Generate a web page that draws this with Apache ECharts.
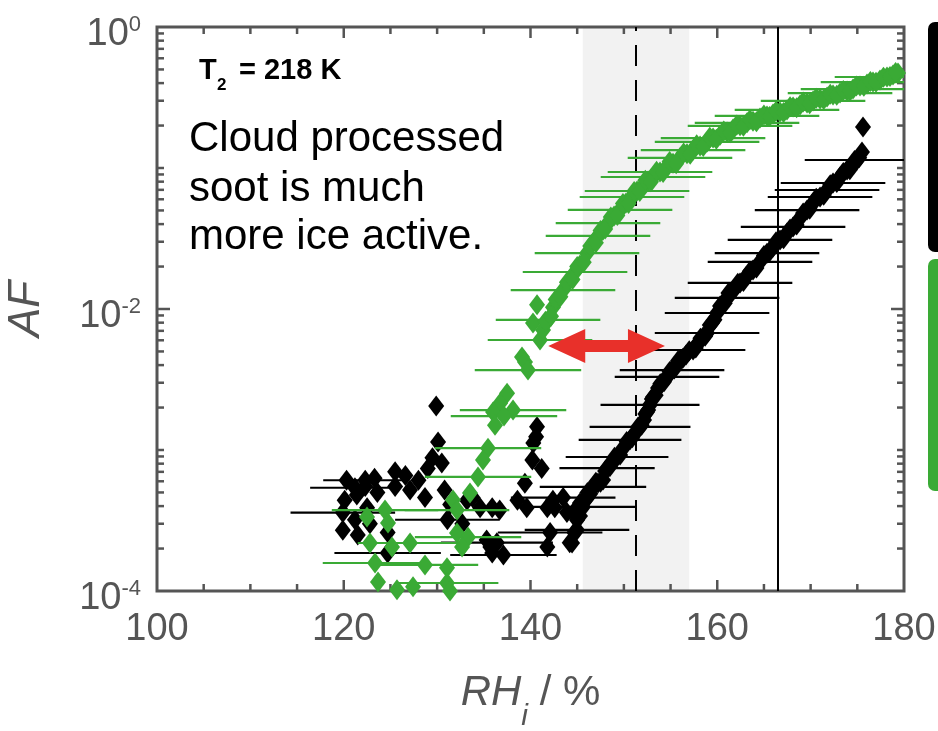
<!DOCTYPE html>
<html>
<head>
<meta charset="utf-8">
<script src="https://cdn.jsdelivr.net/npm/echarts@6/dist/echarts.min.js"></script>
<style>
  html, body { margin: 0; padding: 0; background: #fff; }
  #chart { width: 938px; height: 731px; }
</style>
</head>
<body>
<div id="chart"></div>
<script>
// ---- Data: activated fraction (AF) vs. ice relative humidity (RH_i, %) ----

// untreated soot: scattered low-AF points
const blackScatter = [
  [129.9, 2.05e-3], [130.1, 1.14e-3], [129.5, 8.8e-4], [130.5, 8.1e-4], [129.0, 7.4e-4],
  [120.3, 6.1e-4], [123.3, 6.3e-4], [125.5, 7.0e-4], [126.6, 6.6e-4], [128.0, 6.1e-4],
  [122.3, 5.5e-4], [120.1, 4.4e-4], [121.4, 4.8e-4], [123.6, 5.0e-4], [125.5, 5.5e-4],
  [127.1, 5.2e-4], [128.7, 4.6e-4], [130.8, 5.2e-4], [131.4, 4.1e-4], [133.2, 4.4e-4],
  [134.6, 3.9e-4], [135.9, 3.9e-4], [122.5, 3.9e-4], [121.2, 3.2e-4], [119.9, 2.7e-4],
  [121.5, 2.5e-4], [122.8, 3.0e-4], [124.7, 2.6e-4], [124.7, 1.86e-4], [131.1, 3.2e-4],
  [132.7, 3.0e-4], [135.3, 2.3e-4], [135.9, 1.86e-4], [140.7, 1.46e-3], [140.6, 1.24e-3],
  [140.3, 1.12e-3], [140.2, 8.5e-4], [141.2, 7.4e-4], [139.4, 5.8e-4], [138.6, 4.4e-4],
  [139.6, 3.9e-4], [136.7, 3.75e-4], [133.8, 4.6e-4], [141.8, 3.9e-4], [142.4, 4.4e-4],
  [143.5, 4.6e-4], [144.6, 3.6e-4], [145.3, 4.2e-4], [146.1, 5.0e-4], [142.1, 2.6e-4],
  [141.8, 2.05e-4], [144.2, 2.2e-4], [135.7, 2.05e-4], [137.1, 1.8e-4], [136.4, 2.2e-4],
  [143.9, 3.6e-4], [142.6, 3.9e-4], [122.3, 6.1e-4], [121.2, 5.4e-4], [119.9, 3.6e-4]
];

// untreated soot: main activation curve (centre of the dense band)
const blackCurve = [
  [144.45, 2.19e-4], [144.98, 2.71e-4], [144.98, 3.19e-4], [145.62, 3.95e-4], [146.16, 4.65e-4],
  [146.69, 5.47e-4], [147.23, 5.84e-4], [147.77, 6.12e-4], [148.20, 7.45e-4], [148.73, 8.22e-4],
  [149.27, 8.92e-4], [149.91, 1.03e-3], [150.66, 1.18e-3], [151.19, 1.32e-3], [151.73, 1.46e-3],
  [152.16, 1.63e-3], [152.48, 1.86e-3], [152.80, 2.09e-3], [153.12, 2.38e-3], [153.66, 2.75e-3],
  [154.09, 2.99e-3], [154.62, 3.30e-3], [155.16, 3.69e-3], [155.59, 4.01e-3], [156.01, 4.35e-3],
  [156.66, 4.72e-3], [157.41, 5.12e-3], [157.94, 5.74e-3], [158.48, 6.33e-3], [158.91, 6.76e-3],
  [159.44, 7.96e-3], [159.98, 9.37e-3], [160.52, 1.07e-2], [161.05, 1.20e-2], [161.37, 1.30e-2],
  [161.91, 1.41e-2], [162.44, 1.53e-2], [163.08, 1.69e-2], [163.83, 1.89e-2], [164.58, 2.16e-2],
  [165.33, 2.49e-2], [165.97, 2.75e-2], [166.72, 3.09e-2], [167.47, 3.46e-2], [168.12, 3.82e-2],
  [168.87, 4.42e-2], [169.62, 5.03e-2], [170.26, 5.65e-2], [171.01, 6.23e-2], [171.76, 6.98e-2],
  [172.40, 7.83e-2], [173.15, 8.63e-2], [173.90, 9.68e-2], [174.43, 0.105], [174.97, 0.114],
  [175.50, 0.130], [175.61, 0.195]
];

// untreated soot: further points along the edges of the dense band
const blackCurveSpread = [
  [144.7, 2.6e-4], [145.3, 3.4e-4], [145.9, 4.5e-4], [146.4, 4.9e-4], [147.0, 5.9e-4],
  [147.5, 5.9e-4], [148.0, 7.1e-4], [148.5, 7.6e-4], [149.0, 8.9e-4], [149.6, 9.2e-4],
  [150.3, 1.15e-3], [150.9, 1.22e-3], [151.5, 1.45e-3], [151.9, 1.50e-3], [152.3, 1.80e-3],
  [152.6, 1.92e-3], [153.0, 2.30e-3], [153.4, 2.45e-3], [153.9, 2.95e-3], [154.3, 3.05e-3],
  [154.9, 3.60e-3], [155.4, 3.75e-3], [155.8, 4.3e-3], [156.3, 4.45e-3], [157.0, 5.05e-3],
  [157.7, 5.30e-3], [158.2, 6.2e-3], [158.7, 6.4e-3], [159.2, 7.7e-3], [159.7, 8.4e-3],
  [160.3, 1.05e-2], [160.8, 1.10e-2], [161.2, 1.30e-2], [161.6, 1.32e-2], [162.2, 1.52e-2],
  [162.8, 1.57e-2], [163.5, 1.85e-2], [164.2, 1.95e-2], [165.0, 2.40e-2], [165.6, 2.55e-2],
  [166.3, 3.0e-2], [167.1, 3.15e-2], [167.8, 3.7e-2], [168.5, 3.95e-2], [169.2, 4.8e-2],
  [169.9, 5.1e-2], [170.6, 6.1e-2], [171.4, 6.4e-2], [172.1, 7.6e-2], [172.8, 7.9e-2],
  [173.5, 9.3e-2], [174.2, 9.7e-2], [174.7, 0.113], [175.2, 0.118]
];

// untreated soot: horizontal RH_i uncertainty [RH, AF, half-width]
const blackErrorBars = [
  [122.3, 6.1e-4, 4.5], [121.2, 5.4e-4, 4.8], [119.9, 3.6e-4, 5.6], [124.7, 1.86e-4, 5.7],
  [131.1, 3.2e-4, 5.6], [136.4, 2.2e-4, 6.0], [137.1, 1.8e-4, 5.7], [142.1, 2.6e-4, 5.6],
  [143.5, 4.6e-4, 5.6], [144.98, 2.71e-4, 5.6], [145.62, 3.95e-4, 5.6], [146.69, 5.47e-4, 5.7],
  [148.20, 7.45e-4, 5.1], [149.27, 8.92e-4, 5.5], [150.66, 1.18e-3, 5.5], [151.73, 1.46e-3, 5.4],
  [152.80, 2.09e-3, 5.3], [154.62, 3.30e-3, 5.6], [155.16, 3.69e-3, 5.6], [157.41, 5.12e-3, 5.6],
  [158.91, 6.76e-3, 5.6], [159.98, 9.37e-3, 5.6], [161.05, 1.20e-2, 5.6], [162.44, 1.53e-2, 5.6],
  [164.58, 2.16e-2, 5.6], [165.33, 2.49e-2, 5.6], [166.72, 3.09e-2, 5.6], [168.12, 3.82e-2, 5.6],
  [169.62, 5.03e-2, 5.6], [171.01, 6.23e-2, 5.6], [171.76, 6.98e-2, 5.6], [172.40, 7.83e-2, 5.6],
  [174.97, 0.114, 5.6]
];

// cloud-processed soot: scattered points
const greenScatter = [
  [140.70, 1.07e-2], [140.27, 7.96e-3], [141.02, 6.03e-3], [139.09, 4.57e-3], [139.41, 4.21e-3],
  [139.73, 3.69e-3], [137.49, 2.53e-3], [136.74, 2.15e-3], [138.13, 1.92e-3], [135.99, 1.86e-3],
  [137.16, 1.74e-3], [136.20, 1.50e-3], [135.45, 1.03e-3], [134.91, 8.5e-4], [134.38, 6.44e-4],
  [133.52, 4.96e-4], [131.70, 4.42e-4], [132.13, 3.75e-4], [132.13, 2.58e-4], [133.31, 2.41e-4],
  [132.67, 2.05e-4], [122.49, 3.35e-4], [124.42, 3.75e-4], [124.74, 3.03e-4], [122.81, 2.19e-4],
  [125.17, 2.05e-4], [127.10, 2.19e-4], [123.35, 1.58e-4], [123.67, 1.16e-4], [125.70, 1.02e-4],
  [127.42, 1.07e-4], [128.70, 1.53e-4], [131.06, 1.46e-4], [131.06, 1.14e-4], [131.38, 1.0e-4]
];

// cloud-processed soot: main activation curve (centre of the dense band)
const greenCurve = [
  [141.34, 7.10e-3], [141.88, 8.36e-3], [142.41, 1.03e-2], [142.95, 1.20e-2], [143.48, 1.36e-2],
  [144.23, 1.61e-2], [144.77, 1.83e-2], [145.30, 2.05e-2], [146.05, 2.49e-2], [146.70, 2.94e-2],
  [147.23, 3.30e-2], [147.77, 3.63e-2], [148.30, 4.07e-2], [148.95, 4.57e-2], [149.59, 5.04e-2],
  [150.23, 5.65e-2], [150.87, 6.23e-2], [151.41, 6.87e-2], [152.05, 7.45e-2], [152.59, 8.09e-2],
  [153.12, 8.63e-2], [153.87, 9.37e-2], [154.62, 0.102], [155.26, 0.108], [156.01, 0.118],
  [156.76, 0.126], [157.41, 0.134], [158.16, 0.143], [158.91, 0.153], [159.55, 0.163],
  [160.30, 0.171], [161.05, 0.180], [161.69, 0.189], [162.44, 0.199], [163.19, 0.209],
  [163.83, 0.215], [164.58, 0.226], [165.33, 0.234], [165.97, 0.242], [166.72, 0.250],
  [167.47, 0.258], [168.12, 0.271], [168.87, 0.280], [169.62, 0.289], [170.26, 0.299],
  [171.01, 0.309], [171.76, 0.319], [172.40, 0.330], [173.15, 0.340], [173.90, 0.352],
  [174.54, 0.363], [175.29, 0.382], [176.04, 0.394], [176.68, 0.407], [177.43, 0.421],
  [178.18, 0.442], [178.82, 0.457], [179.36, 0.472]
];

// cloud-processed soot: further points along the edges of the dense band
const greenCurveSpread = [
  [141.6, 8.2e-3], [142.2, 8.9e-3], [142.7, 1.17e-2], [143.2, 1.22e-2], [143.9, 1.55e-2],
  [144.5, 1.62e-2], [145.0, 2.0e-2], [145.7, 2.15e-2], [146.4, 2.8e-2], [147.0, 2.95e-2],
  [147.5, 3.6e-2], [148.0, 3.7e-2], [148.6, 4.5e-2], [149.3, 4.6e-2], [149.9, 5.6e-2],
  [150.5, 5.6e-2], [151.1, 6.8e-2], [151.7, 6.8e-2], [152.3, 8.2e-2], [152.9, 8.0e-2],
  [153.5, 9.5e-2], [154.2, 9.3e-2], [154.9, 0.111], [155.6, 0.107], [156.4, 0.128],
  [157.1, 0.125], [157.8, 0.146], [158.5, 0.142], [159.2, 0.165], [159.9, 0.160],
  [160.7, 0.183], [161.4, 0.178], [162.1, 0.202], [162.8, 0.198], [163.5, 0.220],
  [164.2, 0.213], [165.0, 0.238], [165.6, 0.232], [166.3, 0.253], [167.1, 0.248],
  [167.8, 0.272], [168.5, 0.268], [169.2, 0.294], [169.9, 0.286], [170.6, 0.312],
  [171.4, 0.306], [172.1, 0.333], [172.8, 0.328], [173.5, 0.355], [174.2, 0.350],
  [174.9, 0.381], [175.7, 0.380], [176.4, 0.410], [177.0, 0.405], [177.8, 0.441],
  [178.5, 0.445], [179.1, 0.475]
];

// cloud-processed soot: horizontal RH_i uncertainty [RH, AF, half-width]
const greenErrorBars = [
  [178.18, 0.442, 5.6], [176.68, 0.407, 5.6], [174.54, 0.363, 5.6], [173.15, 0.340, 5.6],
  [170.26, 0.299, 5.6], [167.47, 0.258, 5.6], [165.33, 0.234, 5.6], [163.19, 0.209, 5.6],
  [162.44, 0.199, 5.6], [159.55, 0.163, 5.6], [158.91, 0.153, 5.6], [157.41, 0.134, 5.6],
  [156.01, 0.118, 5.6], [153.87, 0.0937, 5.6], [153.12, 0.0863, 5.6], [151.41, 0.0687, 5.6],
  [150.87, 0.0623, 5.6], [149.59, 0.0504, 5.6], [148.30, 0.0407, 5.6], [147.23, 0.0330, 5.6],
  [146.05, 0.0249, 5.6], [144.77, 0.0183, 5.6], [143.48, 0.0136, 5.6], [141.88, 8.36e-3, 5.6],
  [141.02, 6.03e-3, 5.6], [139.73, 3.69e-3, 5.7], [138.13, 1.92e-3, 5.7], [137.16, 1.74e-3, 5.7],
  [135.45, 1.03e-3, 5.7], [134.38, 6.44e-4, 5.7], [124.42, 3.75e-4, 5.7], [132.13, 3.75e-4, 5.6],
  [133.31, 2.41e-4, 5.7], [127.10, 2.19e-4, 5.6], [123.35, 1.58e-4, 5.6], [128.70, 1.53e-4, 5.7],
  [131.06, 1.14e-4, 5.5]
];

// reference RH_i values
const shadedBand = [145.6, 157.0];   // uncertainty range around the dashed line
const dashedLineRH = 151.3;
const solidLineRH = 166.5;
// shift between the two curves [RH start, AF, RH end]
const arrowSpan = [[141.9, 5.47e-3, 154.4]];

// axes
const X_MIN = 100, X_MAX = 180, X_LABEL_STEP = 20, X_TICK_STEP = 5;
const Y_MIN = 1e-4, Y_MAX = 1;

// ---- Styles ----
const FONT = '"Liberation Sans", Arial, Helvetica, sans-serif';
const AXIS_COLOR = '#555555';
const BLACK = '#000000';
const GREEN = '#3aaa35';
const RED = '#e8302a';
const MARKER = [16, 21];

const chart = echarts.init(document.getElementById('chart'), null, { renderer: 'canvas' });

function errorBarItem(color) {
  return function (params, api) {
    const x = api.value(0), y = api.value(1), hw = api.value(2);
    const a = api.coord([x - hw, y]);
    const b = api.coord([x + hw, y]);
    return {
      type: 'line',
      shape: { x1: a[0], y1: a[1], x2: b[0], y2: b[1] },
      style: { stroke: color, lineWidth: 2.2 }
    };
  };
}

// box frame with inward ticks on all four sides
function frameItem(params, api) {
  const tl = api.coord([X_MIN, Y_MAX]);
  const br = api.coord([X_MAX, Y_MIN]);
  const children = [{
    type: 'rect',
    shape: { x: tl[0], y: tl[1], width: br[0] - tl[0], height: br[1] - tl[1] },
    style: { fill: null, stroke: AXIS_COLOR, lineWidth: 3 }
  }];
  const tickStyle = { stroke: AXIS_COLOR, lineWidth: 2.5 };
  for (let v = X_MIN + X_TICK_STEP; v < X_MAX; v += X_TICK_STEP) {
    const len = v % X_LABEL_STEP === 0 ? 11 : 7;
    const px = api.coord([v, Y_MIN])[0];
    children.push({ type: 'line', shape: { x1: px, y1: br[1], x2: px, y2: br[1] - len }, style: tickStyle });
    children.push({ type: 'line', shape: { x1: px, y1: tl[1], x2: px, y2: tl[1] + len }, style: tickStyle });
  }
  for (let e = -4; e <= 0; e++) {
    for (let m = 1; m <= 9; m++) {
      const v = m * Math.pow(10, e);
      if (v <= Y_MIN || v >= Y_MAX) continue;
      const len = (m === 1 && e % 2 === 0) ? 13 : 7;
      const py = api.coord([X_MIN, v])[1];
      children.push({ type: 'line', shape: { x1: tl[0], y1: py, x2: tl[0] + len, y2: py }, style: tickStyle });
      children.push({ type: 'line', shape: { x1: br[0], y1: py, x2: br[0] - len, y2: py }, style: tickStyle });
    }
  }
  return { type: 'group', children: children };
}

// double-headed arrow between two RH values at a fixed AF
function arrowItem(params, api) {
  const p1 = api.coord([api.value(0), api.value(1)]);
  const p2 = api.coord([api.value(2), api.value(1)]);
  const head = 37, halfHead = 17, halfShaft = 6;
  const y = p1[1];
  return {
    type: 'polygon',
    shape: {
      points: [
        [p1[0], y],
        [p1[0] + head, y - halfHead], [p1[0] + head, y - halfShaft],
        [p2[0] - head, y - halfShaft], [p2[0] - head, y - halfHead],
        [p2[0], y],
        [p2[0] - head, y + halfHead], [p2[0] - head, y + halfShaft],
        [p1[0] + head, y + halfShaft], [p1[0] + head, y + halfHead]
      ]
    },
    style: { fill: RED }
  };
}

const option = {
  backgroundColor: '#ffffff',
  animation: false,
  grid: { left: 157, right: 34, top: 27, bottom: 140, containLabel: false, outerBoundsMode: 'none' },
  xAxis: {
    type: 'value',
    min: X_MIN, max: X_MAX, interval: X_LABEL_STEP,
    axisLine: { show: false }, axisTick: { show: false }, splitLine: { show: false },
    axisLabel: { fontSize: 38, color: AXIS_COLOR, fontFamily: FONT, margin: 20 },
    name: '{it|RH}{sub|i}{n| / %}',
    nameLocation: 'middle',
    nameGap: 81,
    nameTextStyle: {
      color: AXIS_COLOR, fontFamily: FONT,
      rich: {
        it: { fontSize: 42, fontStyle: 'italic', color: AXIS_COLOR, fontFamily: FONT, lineHeight: 60, verticalAlign: 'top' },
        sub: { fontSize: 30, fontStyle: 'italic', color: AXIS_COLOR, fontFamily: FONT, lineHeight: 60, verticalAlign: 'bottom' },
        n: { fontSize: 42, color: AXIS_COLOR, fontFamily: FONT, lineHeight: 60, verticalAlign: 'top' }
      }
    }
  },
  yAxis: {
    type: 'log', logBase: 10,
    min: Y_MIN, max: Y_MAX,
    axisLine: { show: false }, axisTick: { show: false }, splitLine: { show: false },
    minorTick: { show: false },
    axisLabel: {
      margin: 16,
      padding: [14, 0, 0, 0],
      formatter: function (v) {
        const e = Math.round(Math.log10(v));
        if (e % 2 !== 0) return '';
        return '{b|10}{e|' + e + '}';
      },
      rich: {
        b: { fontSize: 38, color: AXIS_COLOR, fontFamily: FONT, lineHeight: 40, verticalAlign: 'bottom' },
        e: { fontSize: 22, color: AXIS_COLOR, fontFamily: FONT, lineHeight: 22, verticalAlign: 'top' }
      }
    },
    name: 'AF',
    nameLocation: 'middle',
    nameRotate: 90,
    nameGap: 108,
    nameTextStyle: { fontSize: 44, fontStyle: 'italic', color: AXIS_COLOR, fontFamily: FONT }
  },
  series: [
    {
      name: 'reference',
      type: 'scatter',
      z: 1,
      silent: true,
      data: [],
      markArea: {
        silent: true,
        itemStyle: { color: '#f2f2f2' },
        data: [[{ xAxis: shadedBand[0] }, { xAxis: shadedBand[1] }]]
      },
      markLine: {
        silent: true, symbol: 'none', label: { show: false },
        lineStyle: { color: BLACK, width: 2, type: 'solid' },
        data: [{ xAxis: solidLineRH }]
      }
    },
    {
      name: 'frame',
      type: 'custom',
      z: 3,
      silent: true,
      clip: false,
      data: [[140, 0.01]],
      renderItem: frameItem
    },
    {
      name: 'untreated soot error',
      type: 'custom',
      z: 4,
      clip: true,
      silent: true,
      data: blackErrorBars,
      encode: { x: 0, y: 1 },
      renderItem: errorBarItem(BLACK)
    },
    {
      name: 'untreated soot',
      type: 'scatter',
      z: 5,
      symbol: 'diamond',
      symbolSize: MARKER,
      itemStyle: { color: BLACK, opacity: 1 },
      data: blackScatter.concat(blackCurve, blackCurveSpread)
    },
    {
      name: 'cloud processed error',
      type: 'custom',
      z: 6,
      clip: true,
      silent: true,
      data: greenErrorBars,
      encode: { x: 0, y: 1 },
      renderItem: errorBarItem(GREEN)
    },
    {
      name: 'cloud processed soot',
      type: 'scatter',
      z: 7,
      symbol: 'diamond',
      symbolSize: MARKER,
      clip: true,
      itemStyle: { color: GREEN, opacity: 1 },
      data: greenScatter.concat(greenCurve, greenCurveSpread)
    },
    {
      name: 'dashed reference',
      type: 'scatter',
      z: 8,
      silent: true,
      data: [],
      markLine: {
        silent: true, symbol: 'none', label: { show: false },
        lineStyle: { color: BLACK, width: 2, type: [21, 14] },
        data: [{ xAxis: dashedLineRH }]
      }
    },
    {
      name: 'shift',
      type: 'custom',
      z: 9,
      silent: true,
      clip: false,
      data: arrowSpan,
      encode: { x: [0, 2], y: 1 },
      renderItem: arrowItem
    }
  ],
  graphic: [
    { type: 'text', left: 199, top: 56, style: { text: 'T', font: 'bold 29px ' + FONT, fill: BLACK } },
    { type: 'text', left: 217, top: 77, style: { text: '2', font: 'bold 17px ' + FONT, fill: BLACK } },
    { type: 'text', left: 239, top: 56, style: { text: '= 218 K', font: 'bold 29px ' + FONT, fill: BLACK } },
    { type: 'text', left: 189, top: 118, style: { text: 'Cloud processed', font: '42px ' + FONT, fill: BLACK } },
    { type: 'text', left: 189, top: 168, style: { text: 'soot is much', font: '42px ' + FONT, fill: BLACK } },
    { type: 'text', left: 189, top: 216, style: { text: 'more ice active.', font: '42px ' + FONT, fill: BLACK } },
    { type: 'rect', left: 928, top: 22, shape: { width: 22, height: 230, r: 7 }, style: { fill: BLACK } },
    { type: 'rect', left: 928, top: 259, shape: { width: 22, height: 232, r: 7 }, style: { fill: GREEN } }
  ]
};

chart.setOption(option);
</script>
</body>
</html>
